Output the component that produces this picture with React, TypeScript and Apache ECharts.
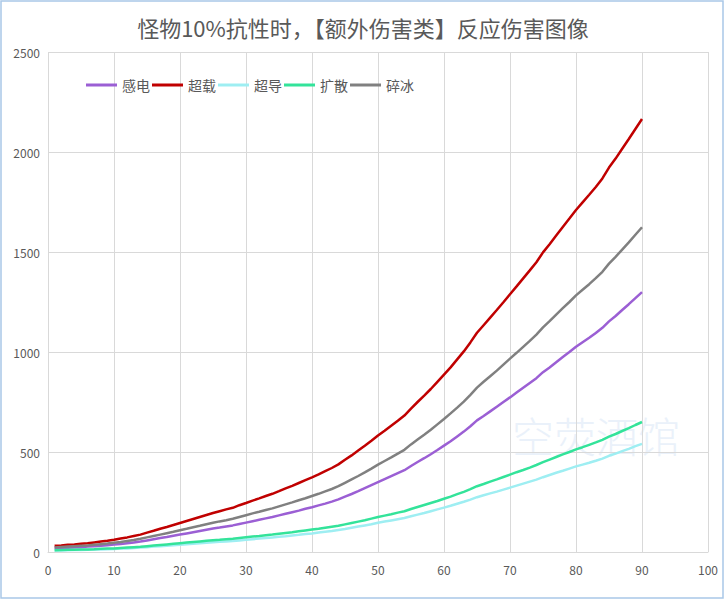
import React, { useEffect, useRef } from "react";
import * as echarts from "echarts";

const levels = [
  1, 2, 3, 4, 5, 6, 7, 8, 9, 10, 11, 12, 13, 14, 15, 16, 17, 18, 19, 20,
  21, 22, 23, 24, 25, 26, 27, 28, 29, 30, 31, 32, 33, 34, 35, 36, 37, 38, 39, 40,
  41, 42, 43, 44, 45, 46, 47, 48, 49, 50, 51, 52, 53, 54, 55, 56, 57, 58, 59, 60,
  61, 62, 63, 64, 65, 66, 67, 68, 69, 70, 71, 72, 73, 74, 75, 76, 77, 78, 79, 80,
  81, 82, 83, 84, 85, 86, 87, 88, 89, 90,
];

const ganDian = [
  19, 20, 21, 23, 24, 27, 29, 31, 34, 37, 40, 44, 48, 52, 58, 64, 70, 75, 81, 87,
  93, 99, 105, 111, 117, 122, 128, 133, 140, 147, 154, 161, 168, 175, 183, 191, 199, 207, 216, 224,
  233, 242, 252, 263, 277, 290, 304, 319, 334, 349, 364, 379, 394, 409, 430, 450, 469, 489, 510, 532,
  554, 578, 602, 629, 658, 680, 703, 726, 750, 773, 797, 821, 845, 869, 899, 923, 949, 975, 1000, 1026,
  1049, 1071, 1095, 1121, 1153, 1180, 1210, 1239, 1269, 1299,
];

const chaoZai = [
  31, 33, 36, 38, 41, 44, 48, 52, 56, 61, 67, 73, 80, 87, 97, 106, 116, 125, 135, 145,
  155, 165, 175, 185, 195, 204, 213, 221, 234, 245, 257, 268, 280, 291, 304, 318, 331, 345, 359, 373,
  388, 404, 420, 438, 461, 483, 507, 531, 556, 582, 606, 631, 656, 682, 717, 750, 782, 815, 851, 887,
  923, 963, 1003, 1048, 1096, 1134, 1172, 1210, 1249, 1289, 1328, 1368, 1408, 1449, 1498, 1539, 1582, 1625, 1667, 1710,
  1748, 1786, 1825, 1868, 1922, 1967, 2016, 2065, 2115, 2165,
];

const chaoDao = [
  8, 8, 9, 10, 10, 11, 12, 13, 14, 15, 17, 18, 20, 22, 24, 27, 29, 31, 34, 36,
  39, 41, 44, 46, 49, 51, 53, 55, 58, 61, 64, 67, 70, 73, 76, 79, 83, 86, 90, 93,
  97, 101, 105, 110, 115, 121, 127, 133, 139, 146, 152, 158, 164, 170, 179, 187, 195, 204, 213, 222,
  231, 241, 251, 262, 274, 284, 293, 302, 312, 322, 332, 342, 352, 362, 374, 385, 396, 406, 417, 428,
  437, 446, 456, 467, 481, 492, 504, 516, 529, 541,
];

const kuoSan = [
  9, 10, 11, 11, 12, 13, 14, 16, 17, 18, 20, 22, 24, 26, 29, 32, 35, 38, 41, 44,
  47, 50, 53, 56, 59, 61, 64, 66, 70, 74, 77, 80, 84, 87, 91, 95, 99, 104, 108, 112,
  116, 121, 126, 131, 138, 145, 152, 159, 167, 175, 182, 189, 197, 204, 215, 225, 235, 245, 255, 266,
  277, 289, 301, 314, 329, 340, 352, 363, 375, 387, 399, 410, 422, 435, 449, 462, 475, 488, 500, 513,
  524, 536, 548, 561, 577, 590, 605, 619, 635, 650,
];

const suiBing = [
  23, 25, 27, 29, 31, 33, 36, 39, 42, 46, 50, 55, 60, 66, 73, 80, 87, 94, 101, 109,
  116, 124, 131, 139, 146, 153, 159, 166, 175, 184, 193, 201, 210, 218, 228, 238, 248, 259, 269, 280,
  291, 303, 315, 329, 346, 363, 380, 398, 417, 437, 455, 473, 492, 511, 538, 562, 586, 611, 638, 665,
  693, 722, 752, 786, 822, 851, 879, 907, 937, 967, 996, 1026, 1056, 1087, 1123, 1154, 1187, 1219, 1250, 1283,
  1311, 1339, 1369, 1401, 1442, 1476, 1512, 1548, 1586, 1624,
];

const seriesNames = ["感电", "超载", "超导", "扩散", "碎冰"];
const seriesValues = [ganDian, chaoZai, chaoDao, kuoSan, suiBing];
const seriesColors = ["#9b5fd4", "#c00000", "#9eeef2", "#33e39a", "#808080"];

const titleText = "怪物10%抗性时，【额外伤害类】反应伤害图像";
const watermarkText = "空荧酒馆";

export default function App() {
  const ref = useRef<HTMLDivElement>(null);

  useEffect(() => {
    if (!ref.current) return;
    const chart = echarts.init(ref.current, undefined, { renderer: "svg" });
    const font = "'Noto Sans CJK SC', 'Noto Sans', sans-serif";
    chart.setOption({
      animation: false,
      backgroundColor: "#ffffff",
      title: {
        text: titleText,
        left: "center",
        top: 11,
        textStyle: {
          fontSize: 22,
          fontWeight: "normal",
          color: "#595959",
          fontFamily: font,
        },
      },
      legend: {
        left: 81,
        top: 73,
        icon: "rect",
        itemWidth: 31,
        itemHeight: 3,
        itemGap: 2,
        data: seriesNames,
        textStyle: { fontSize: 14, color: "#595959", fontFamily: font },
      },
      grid: { left: 48, right: 18, top: 52, bottom: 48, containLabel: false },
      xAxis: {
        type: "value",
        min: 0,
        max: 100,
        interval: 10,
        axisLine: { show: true, lineStyle: { color: "#d9d9d9", width: 1 } },
        axisTick: { show: false },
        axisLabel: { color: "#595959", fontSize: 12, margin: 11, fontFamily: font },
        splitLine: { show: true, lineStyle: { color: "#d9d9d9", width: 1 } },
      },
      yAxis: {
        type: "value",
        min: 0,
        max: 2500,
        interval: 500,
        axisLine: { show: false },
        axisTick: { show: false },
        axisLabel: {
          color: "#595959",
          fontSize: 12,
          margin: 8,
          fontFamily: font,
          formatter: (v: number) => String(v),
        },
        splitLine: { show: true, lineStyle: { color: "#d9d9d9", width: 1 } },
      },
      graphic: [
        {
          type: "text",
          left: 512,
          top: 413,
          z: 0,
          silent: true,
          style: {
            text: watermarkText,
            fontSize: 42,
            fill: "#eaf1fa",
            fontFamily: font,
            fontWeight: 300,
          },
        },
        {
          type: "rect",
          shape: { x: 1, y: 1, width: 722, height: 597 },
          silent: true,
          style: { fill: "none", stroke: "#a9c8e8", lineWidth: 1.5 },
        },
      ],
      series: seriesNames.map((name, i) => ({
        name,
        type: "line",
        data: levels.map((lv, j) => [lv, seriesValues[i][j]]),
        symbol: "none",
        showSymbol: false,
        color: seriesColors[i],
        lineStyle: { width: 2.5, color: seriesColors[i] },
        z: 3,
      })),
    });
    return () => chart.dispose();
  }, []);

  return (
    <div
      ref={ref}
      style={{ position: "fixed", left: 0, top: 0, width: 726, height: 600 }}
    />
  );
}
